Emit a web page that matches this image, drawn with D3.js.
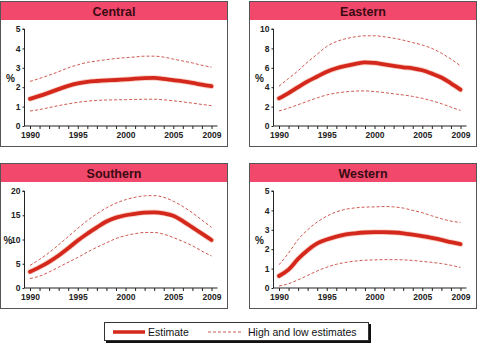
<!DOCTYPE html>
<html><head><meta charset="utf-8">
<script src="https://cdn.jsdelivr.net/npm/d3@7"></script>
<style>body{margin:0;background:#fff}svg{display:block}</style>
</head><body><svg id="c" width="477" height="343"></svg>
<script>
const years = [1990,1991,1992,1993,1994,1995,1996,1997,1998,1999,2000,2001,2002,2003,2004,2005,2006,2007,2008,2009];
const xTickLabels = [1990,1995,2000,2005,2009];
const regions = ["Central","Eastern","Southern","Western"];
const yMax = [5,10,20,5];
const yTickStep = [1,2,5,1];

const centralEst  = [1.4,1.55,1.72,1.9,2.07,2.2,2.28,2.32,2.35,2.37,2.4,2.44,2.47,2.48,2.43,2.36,2.3,2.22,2.13,2.05];
const centralHigh = [2.3,2.45,2.62,2.8,3.0,3.15,3.28,3.35,3.42,3.48,3.52,3.56,3.6,3.6,3.55,3.45,3.35,3.25,3.13,3.03];
const centralLow  = [0.77,0.85,0.95,1.05,1.14,1.22,1.28,1.32,1.34,1.35,1.36,1.37,1.38,1.38,1.35,1.3,1.24,1.18,1.11,1.05];

const easternEst  = [2.85,3.4,4.0,4.6,5.1,5.6,5.95,6.2,6.4,6.55,6.5,6.35,6.2,6.05,5.95,5.75,5.4,5.0,4.4,3.75];
const easternHigh = [4.1,4.9,5.7,6.6,7.4,8.2,8.7,9.0,9.2,9.3,9.3,9.2,9.05,8.85,8.6,8.35,8.0,7.5,6.9,6.2];
const easternLow  = [1.55,1.85,2.2,2.55,2.9,3.2,3.4,3.52,3.6,3.62,3.55,3.45,3.32,3.2,3.05,2.85,2.6,2.3,1.95,1.6];

const southernEst  = [3.35,4.3,5.4,6.7,8.2,9.8,11.2,12.5,13.7,14.5,15.0,15.3,15.55,15.6,15.4,14.9,13.8,12.5,11.2,9.9];
const southernHigh = [4.65,5.9,7.3,8.9,10.6,12.3,13.9,15.3,16.5,17.5,18.2,18.7,19.0,19.05,18.7,17.9,16.8,15.5,14.0,12.5];
const southernLow  = [1.95,2.45,3.3,4.3,5.3,6.3,7.4,8.4,9.3,10.2,10.8,11.2,11.45,11.45,11.1,10.4,9.6,8.7,7.6,6.6];

const westernEst  = [0.62,0.95,1.5,1.95,2.3,2.5,2.65,2.76,2.82,2.86,2.88,2.88,2.86,2.82,2.75,2.67,2.58,2.48,2.36,2.26];
const westernHigh = [1.2,1.8,2.5,3.0,3.4,3.7,3.92,4.06,4.13,4.17,4.18,4.2,4.18,4.12,4.0,3.88,3.72,3.57,3.45,3.38];
const westernLow  = [0.1,0.22,0.42,0.65,0.88,1.07,1.22,1.32,1.39,1.43,1.45,1.46,1.46,1.45,1.42,1.37,1.32,1.26,1.17,1.06];

const estimates = [centralEst, easternEst, southernEst, westernEst];
const highs = [centralHigh, easternHigh, southernHigh, westernHigh];
const lows = [centralLow, easternLow, southernLow, westernLow];
const legendLabels = ["Estimate","High and low estimates"];

const svg = d3.select("#c");
const PW = 227, PH = 145, HH = 18;
const origins = [[0.5,1.5],[249.5,1.5],[0.5,163.5],[249.5,163.5]];
const estColor = "#d3281b", dashColor = "#c9463c";
const font = "Liberation Sans, Arial, sans-serif";

regions.forEach((name, i) => {
  const g = svg.append("g").attr("transform", `translate(${origins[i][0]},${origins[i][1]})`);
  g.append("rect").attr("width", PW).attr("height", PH).attr("fill", "#fff").attr("stroke", "#555").attr("stroke-width", 1);
  g.append("rect").attr("x", 0.5).attr("y", 0.5).attr("width", PW - 1).attr("height", HH).attr("fill", "#f2486c");
  g.append("text").attr("x", PW / 2).attr("y", HH / 2 + 5).attr("text-anchor", "middle")
    .attr("font-family", font).attr("font-weight", "bold").attr("font-size", 12.5)
    .attr("fill", "#3a0b12").text(name);

  const x = d3.scaleLinear().domain([1990, 2009]).range([29.5, 211]);
  const y = d3.scaleLinear().domain([0, yMax[i]]).range([124.5, 27.5]);

  // y axis
  const ya = g.append("g").attr("transform", "translate(24,0)")
    .call(d3.axisLeft(y).tickValues(d3.range(0, yMax[i] + 0.001, yTickStep[i]))
      .tickFormat(d3.format("d")).tickSize(2).tickPadding(2));
  ya.select(".domain").attr("stroke", "#222").attr("d", `M-2,${y(yMax[i])}H0V${y(0)}`);
  ya.selectAll("line").attr("stroke", "#222");
  ya.selectAll("text").attr("font-family", font).attr("font-weight", "bold").attr("font-size", 8.5).attr("fill", "#222");

  // x axis minor ticks
  const xa = g.append("g").attr("transform", `translate(0,${y(0)})`)
    .call(d3.axisBottom(x).tickValues(years).tickSize(3).tickFormat(""));
  xa.select(".domain").attr("stroke", "#222").attr("d", `M24,0H217`);
  xa.selectAll("line").attr("stroke", "#222");
  const xl = g.append("g").attr("transform", `translate(0,${y(0)})`)
    .call(d3.axisBottom(x).tickValues(xTickLabels).tickSize(0).tickPadding(6).tickFormat(d3.format("d")));
  xl.select(".domain").remove();
  xl.selectAll("text").attr("font-family", font).attr("font-weight", "bold").attr("font-size", 8.5).attr("fill", "#222");

  g.append("text").attr("x", i === 2 ? 7.5 : 10).attr("y", (y(0) + y(yMax[i])) / 2 + 4)
    .attr("text-anchor", "middle").attr("font-family", font).attr("font-weight", "bold")
    .attr("font-size", 10).attr("fill", "#222").text("%");

  const line = d3.line().x((d, j) => x(years[j])).y(d => y(d)).curve(d3.curveMonotoneX);
  [highs[i], lows[i]].forEach(arr => {
    g.append("path").attr("d", line(arr)).attr("fill", "none").attr("stroke", dashColor)
      .attr("stroke-width", 0.9).attr("stroke-dasharray", "3,2");
  });
  g.append("path").attr("d", line(estimates[i])).attr("fill", "none").attr("stroke", "#f2a08a")
    .attr("stroke-width", 5.5).attr("stroke-opacity", 0.5).attr("stroke-linecap", "round");
  g.append("path").attr("d", line(estimates[i])).attr("fill", "none").attr("stroke", estColor)
    .attr("stroke-width", 3.8).attr("stroke-linecap", "round");
});

// legend
const lg = svg.append("g");
lg.append("rect").attr("x", 106).attr("y", 324).attr("width", 265).attr("height", 19).attr("fill", "#111");
lg.append("rect").attr("x", 104.5).attr("y", 322.5).attr("width", 264).attr("height", 18).attr("fill", "#fff").attr("stroke", "#333");
lg.append("line").attr("x1", 113).attr("x2", 145).attr("y1", 332).attr("y2", 332).attr("stroke", estColor).attr("stroke-width", 3.5);
lg.append("text").attr("x", 148).attr("y", 336).attr("font-family", font)
  .attr("font-size", 10.5).attr("fill", "#111").text(legendLabels[0]);
lg.append("line").attr("x1", 208).attr("x2", 243).attr("y1", 332).attr("y2", 332).attr("stroke", dashColor)
  .attr("stroke-width", 0.9).attr("stroke-dasharray", "3,2");
lg.append("text").attr("x", 248).attr("y", 336).attr("font-family", font)
  .attr("font-size", 10.5).attr("fill", "#111").text(legendLabels[1]);
</script></body></html>
